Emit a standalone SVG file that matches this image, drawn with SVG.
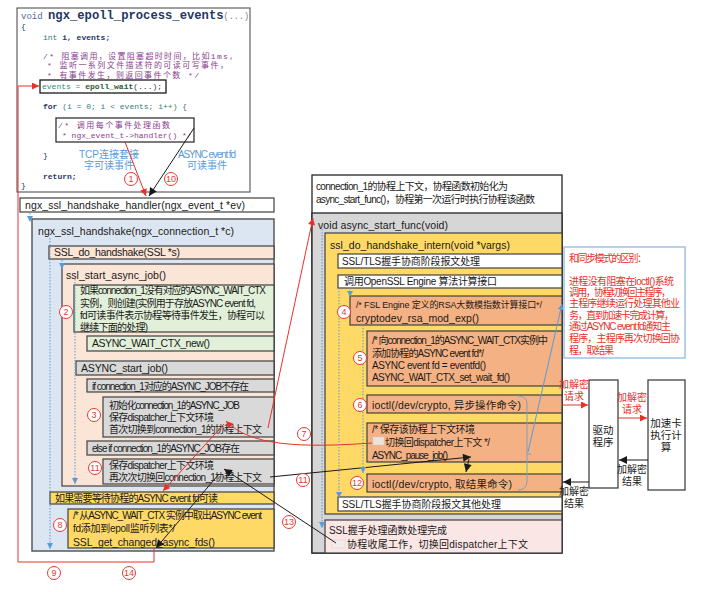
<svg xmlns="http://www.w3.org/2000/svg" width="702" height="592" viewBox="0 0 702 592">
<style>
.t{font-family:"Liberation Sans","Noto Sans CJK SC",sans-serif;font-size:10.5px;fill:#1a1a1a}
.s{font-size:10px}
.xs{font-size:9px}
.m{font-family:"Liberation Mono","DejaVu Sans Mono","Noto Sans CJK SC",monospace;font-size:8px;fill:#1F3864}
.cm{fill:#8A3D8F}
.bx{stroke:#404040;stroke-width:1.2}
.blue{fill:#DCE6F2}.peach{fill:#FBE5D6}.green{fill:#E2F0D9}.gray{fill:#D9D9D9}.gold{fill:#FFD966}.orange{fill:#F4B183}.pink{fill:#FBE6E6}.white{fill:#fff}
.num circle{fill:#fff;stroke:#E53935;stroke-width:1}
.num text{font-family:"Liberation Sans",sans-serif;font-size:9px;fill:#E53935;text-anchor:middle}
.dot{fill:none;stroke:#5B9BD5;stroke-width:1;stroke-dasharray:1.5 1.5}
.red{fill:none;stroke:#E8302A;stroke-width:1}
.blk{fill:none;stroke:#1a1a1a;stroke-width:1}
.rt{fill:#E8302A}
.lb{fill:#5B9BD5}
.c{text-anchor:middle}
</style>
<defs>
<marker id="ar" viewBox="0 0 10 10" refX="10" refY="5" markerWidth="8" markerHeight="7" markerUnits="userSpaceOnUse" orient="auto"><path d="M0,0 L10,5 L0,10 z" fill="#E8302A"/></marker>
<marker id="ak" viewBox="0 0 10 10" refX="10" refY="5" markerWidth="9" markerHeight="8" markerUnits="userSpaceOnUse" orient="auto"><path d="M0,0 L10,5 L0,10 z" fill="#1a1a1a"/></marker>
<marker id="ab" viewBox="0 0 10 10" refX="10" refY="5" markerWidth="6" markerHeight="6" markerUnits="userSpaceOnUse" orient="auto"><path d="M0,0 L10,5 L0,10 z" fill="#5B9BD5"/></marker>
</defs>

<g id="code">
<rect x="17" y="8" width="233" height="184" fill="#fff" stroke="#404040" stroke-width="1"/>
<text x="21" y="19" class="m"><tspan font-size="9" fill="#4A6A9C">void </tspan><tspan font-size="12.2" font-weight="bold">ngx_epoll_process_events</tspan><tspan font-size="8.5" fill="#808080">(...)</tspan></text>
<text x="21" y="29" class="m" fill="#808080">{</text>
<text x="43" y="40" class="m"><tspan fill="#2B7A78">int</tspan><tspan font-weight="bold"> i, events;</tspan></text>
<text x="43" y="59" class="m cm" font-size="9" textLength="191">/* 阻塞调用，设置阻塞超时时间，比如1ms,</text>
<text x="47" y="68" class="m cm" font-size="9" textLength="181">* 监听一系列文件描述符的可读可写事件，</text>
<text x="47" y="78" class="m cm" font-size="9" textLength="152">* 有事件发生，则返回事件个数 */</text>
<rect x="40" y="80" width="126" height="13" fill="none" stroke="#1a1a1a" stroke-width="1.3"/>
<text x="42" y="89" class="m"><tspan fill="#2B8A7A">events = </tspan><tspan font-weight="bold" fill="#1E5E2E">epoll_wait</tspan><tspan fill="#333">(...);</tspan></text>
<text x="43" y="109" class="m"><tspan font-weight="bold">for</tspan><tspan fill="#3A7A7A"> (i = 0; i &lt; events; i++) {</tspan></text>
<rect x="56" y="118" width="138" height="24" fill="none" stroke="#333" stroke-width="1.3"/>
<text x="58" y="128" class="m cm" font-size="9" textLength="112">/* 调用每个事件处理函数</text>
<text x="62" y="138" class="m cm">* ngx_event_t-&gt;handler() */</text>
<text x="43" y="158" class="m" fill="#808080">}</text>
<text x="43" y="179" class="m" font-weight="bold">return;</text>
<text x="21" y="188" class="m" fill="#808080">}</text>
<text x="109" y="158" class="t s lb c">TCP连接套接</text>
<text x="109" y="169" class="t s lb c">字可读事件</text>
<text x="207" y="158" class="t s lb c" textLength="58">ASYNC event fd</text>
<text x="207" y="169" class="t s lb c">可读事件</text>
</g>

<g id="handler">
<rect x="20" y="198" width="254" height="14" class="white bx"/>
<text x="25" y="209" class="t" textLength="220">ngx_ssl_handshake_handler(ngx_event_t *ev)</text>
</g>

<g id="ngx_ssl_handshake">
<rect x="32" y="219" width="242" height="332" class="blue" stroke="#595959" stroke-width="1.5"/>
<text x="38" y="235" class="t" textLength="196">ngx_ssl_handshake(ngx_connection_t *c)</text>
</g>

<g id="ssl_do_handshake">
<rect x="49" y="246" width="225" height="13" class="peach bx"/>
<text x="54" y="256" class="t" textLength="126">SSL_do_handshake(SSL *s)</text>
</g>

<g id="ssl_start_async_job">
<rect x="62" y="264" width="212" height="222" class="peach bx"/>
<text x="66" y="279" class="t" textLength="100">ssl_start_async_job()</text>
</g>

<g id="wait_ctx_check">
<rect x="74" y="285" width="200" height="47" class="green bx"/>
<text x="80" y="294" class="t s" textLength="186">如果connection_1没有对应的ASYNC_WAIT_CTX</text>
<text x="80" y="307" class="t s" textLength="176">实例，则创建(实例用于存放ASYNC event fd,</text>
<text x="80" y="319" class="t s" textLength="185">fd可读事件表示协程等待事件发生，协程可以</text>
<text x="80" y="331" class="t s" textLength="68">继续下面的处理)</text>
</g>

<g id="wait_ctx_new">
<rect x="87" y="336" width="187" height="15" class="green bx"/>
<text x="92" y="347" class="t" textLength="118">ASYNC_WAIT_CTX_new()</text>
</g>

<g id="async_start_job">
<rect x="76" y="361" width="198" height="14" class="gray bx"/>
<text x="81" y="372" class="t" textLength="87">ASYNC_start_job()</text>
</g>

<g id="if_no_job">
<rect x="87" y="379" width="187" height="13" class="gray bx"/>
<text x="92" y="390" class="t s" textLength="157">if connection_1对应的ASYNC_JOB不存在</text>
</g>

<g id="init_job">
<rect x="103" y="397" width="171" height="40" class="gray bx"/>
<text x="109" y="409" class="t s" textLength="131">初始化connection_1的ASYNC_JOB</text>
<text x="109" y="421" class="t s" textLength="105">保存dispatcher上下文环境</text>
<text x="109" y="433" class="t s" textLength="153">首次切换到connection_1的协程上下文</text>
</g>

<g id="else_job">
<rect x="87" y="441" width="187" height="14" class="gray bx"/>
<text x="92" y="452" class="t s" textLength="148">else if connection_1的ASYNC_JOB存在</text>
</g>

<g id="resume_job">
<rect x="103" y="459" width="171" height="25" class="gray bx"/>
<text x="109" y="469" class="t s" textLength="105">保存dispatcher上下文环境</text>
<text x="109" y="481" class="t s" textLength="153">再次次切换回connection_1协程上下文</text>
</g>

<g id="need_wait">
<rect x="50" y="492" width="224" height="12" class="gold bx"/>
<text x="55" y="502" class="t s" textLength="163">如果需要等待协程的ASYNC event fd可读</text>
</g>

<g id="get_fds">
<rect x="68" y="509" width="206" height="39" class="gold bx"/>
<text x="73" y="519" class="t s" textLength="189">/* 从ASYNC_WAIT_CTX 实例中取出ASYNC event</text>
<text x="73" y="532" class="t s" textLength="102">fd添加到epoll监听列表*/</text>
<text x="73" y="546" class="t" textLength="142">SSL_get_changed_async_fds()</text>
</g>

<g id="coroutine">
<rect x="312" y="175" width="250" height="378" fill="#fff" stroke="#262626" stroke-width="1.3"/>
<text x="316" y="190" class="t s" textLength="192">connection_1的协程上下文，协程函数初始化为</text>
<text x="316" y="203" class="t s" textLength="219">async_start_func()，协程第一次运行时执行协程该函数</text>
</g>

<g id="async_start_func">
<rect x="312" y="213" width="250" height="340" fill="#D6D6D6" stroke="#262626" stroke-width="1.3"/>
<text x="318" y="229" class="t" textLength="130">void async_start_func(void)</text>
</g>

<g id="handshake_intern">
<rect x="325" y="233" width="237" height="281" class="gold bx"/>
<text x="330" y="249" class="t" textLength="180">ssl_do_handshake_intern(void *vargs)</text>
</g>

<g id="tls_msg">
<rect x="338" y="254" width="224" height="14" class="white bx"/>
<text x="342" y="265" class="t s" textLength="138">SSL/TLS握手协商阶段报文处理</text>
</g>

<g id="engine_call">
<rect x="338" y="275" width="224" height="13" class="white bx"/>
<text x="344" y="285" class="t s" textLength="153">调用OpenSSL Engine 算法计算接口</text>
</g>

<g id="rsa_mod_exp">
<rect x="350" y="296" width="212" height="29" class="orange bx"/>
<text x="356" y="308" class="t xs" textLength="186">/* FSL Engine 定义的RSA大数模指数计算接口*/</text>
<text x="356" y="322" class="t" textLength="123">cryptodev_rsa_mod_exp()</text>
</g>

<g id="set_wait_fd">
<rect x="367" y="331" width="195" height="55" class="orange bx"/>
<text x="372" y="344" class="t s" textLength="176">/* 向connection_1的ASYNC_WAIT_CTX实例中</text>
<text x="372" y="357" class="t s" textLength="112">添加协程的ASYNC event fd*/</text>
<text x="372" y="369" class="t s" textLength="114">ASYNC event fd = eventfd()</text>
<text x="372" y="381" class="t s" textLength="138">ASYNC_WAIT_CTX_set_wait_fd()</text>
</g>

<g id="ioctl_async">
<rect x="367" y="395" width="195" height="18" class="orange bx"/>
<text x="372" y="409" class="t" textLength="149">ioctl(/dev/crypto, 异步操作命令)</text>
</g>

<g id="pause_job">
<rect x="367" y="423" width="195" height="39" class="orange bx"/>
<rect x="373" y="437" width="11" height="8" fill="#EDE3DC" stroke="#cfc6c0" stroke-width="0.5"/>
<text x="372" y="433" class="t s" textLength="103">/* 保存该协程上下文环境</text>
<text x="385" y="446" class="t s" textLength="105">切换回dispatcher上下文 */</text>
<text x="372" y="459" class="t s" textLength="76">ASYNC_pause_job()</text>
</g>

<g id="ioctl_result">
<rect x="367" y="474" width="195" height="18" class="orange bx"/>
<text x="372" y="488" class="t" textLength="140">ioctl(/dev/crypto, 取结果命令)</text>
</g>

<g id="tls_other">
<rect x="338" y="497" width="224" height="14" class="white bx"/>
<text x="342" y="508" class="t s" textLength="159">SSL/TLS握手协商阶段报文其他处理</text>
</g>

<g id="handshake_done">
<rect x="325" y="520" width="237" height="33" class="pink bx"/>
<rect x="332" y="540" width="13" height="8" fill="#F3ECEC" stroke="#d8cccc" stroke-width="0.5"/>
<text x="329" y="534" class="t s" textLength="118">SSL握手处理函数处理完成</text>
<text x="347" y="548" class="t s" textLength="181">协程收尾工作，切换回dispatcher上下文</text>
</g>

<g id="note">
<rect x="564" y="247" width="121" height="111" fill="#fff" stroke="#9DC3E6" stroke-width="1.5"/>
<text x="569" y="262" class="t s rt" textLength="78">和同步模式的区别：</text>
<text x="569" y="285" class="t s rt" textLength="105">进程没有阻塞在ioctl()系统</text>
<text x="569" y="296" class="t s rt" textLength="102">调用，协程切换回主程序，</text>
<text x="569" y="307" class="t s rt" textLength="111">主程序继续运行处理其他业</text>
<text x="569" y="319" class="t s rt" textLength="105">务，直到加速卡完成计算，</text>
<text x="569" y="330" class="t s rt" textLength="102">通过ASYNC event fd通知主</text>
<text x="569" y="342" class="t s rt" textLength="111">程序，主程序再次切换回协</text>
<text x="569" y="354" class="t s rt" textLength="45">程，取结果</text>
</g>

<g id="driver">
<rect x="589" y="380" width="29" height="108" fill="#fff" stroke="#333" stroke-width="1.2"/>
<text x="603" y="434" class="t c">驱动</text>
<text x="603" y="446" class="t c">程序</text>
</g>

<g id="accelerator">
<rect x="648" y="380" width="37" height="110" fill="#fff" stroke="#333" stroke-width="1.2"/>
<text x="666" y="427" class="t c">加速卡</text>
<text x="666" y="439" class="t c">执行计</text>
<text x="666" y="451" class="t c">算</text>
</g>

<g id="connectors">
<path class="red" d="M125,142 L146,196" marker-end="url(#ar)"/>
<path class="blk" d="M194,128 L149,196" marker-end="url(#ak)"/>
<path class="red" d="M154,548 V562 H18 V86 H39" marker-end="url(#ar)"/>
<path class="red" d="M268,428 L313,218" marker-end="url(#ar)"/>
<path class="red" d="M372,443 C300,448 250,446 226,421" marker-end="url(#ar)"/>
<path class="red" d="M224,424 L163,491" marker-end="url(#ar)"/>
<path class="blk" d="M270,477 L471,457" marker-end="url(#ak)"/>
<path class="blk" d="M469,459 L466,472" marker-end="url(#ak)"/>
<path class="blk" d="M336,543 L224,469" marker-end="url(#ak)"/>
<path class="blk" d="M219,474 L156,548" marker-end="url(#ak)"/>
<path d="M518,396 Q527,396 527,404 V481 Q527,490 518,490" fill="none" stroke="#7F9FBF" stroke-width="1"/>
<path d="M527,454 H531" fill="none" stroke="#7F9FBF" stroke-width="1"/>
<path d="M528,452 L562,304" fill="none" stroke="#5B9BD5" stroke-width="1" marker-end="url(#ab)"/>
<path class="dot" d="M30,213 V222" marker-end="url(#ab)"/>
<path class="dot" d="M50,238 V549" marker-end="url(#ab)"/>
<path class="dot" d="M62,260 V269" marker-end="url(#ab)"/>
<path class="dot" d="M75,279 V484" marker-end="url(#ab)"/>
<path class="dot" d="M322,226 V528" marker-end="url(#ab)"/>
<path class="dot" d="M339,288 V498" marker-end="url(#ab)"/>
<path class="dot" d="M350,288 V297" marker-end="url(#ab)"/>
<path class="dot" d="M363,325 V473" marker-end="url(#ab)"/>
<path class="red" d="M562,405 H588" marker-end="url(#ar)"/>
<path class="red" d="M618,418 H647" marker-end="url(#ar)"/>
<path class="blk" d="M648,460 H619" marker-end="url(#ak)"/>
<path class="blk" d="M589,482 H563" marker-end="url(#ak)"/>
<text x="574" y="388" class="t s rt c">加解密</text>
<text x="574" y="400" class="t s rt c">请求</text>
<text x="632" y="401" class="t s rt c">加解密</text>
<text x="632" y="413" class="t s rt c">请求</text>
<text x="632" y="473" class="t s c">加解密</text>
<text x="632" y="485" class="t s c">结果</text>
<text x="574" y="495" class="t s c">加解密</text>
<text x="574" y="507" class="t s c">结果</text>
<g class="num"><circle cx="131" cy="179" r="6.5"/><text x="131" y="182">1</text></g>
<g class="num"><circle cx="171" cy="179" r="6.5"/><text x="171" y="182">10</text></g>
<g class="num"><circle cx="66" cy="312" r="6.5"/><text x="66" y="315">2</text></g>
<g class="num"><circle cx="94" cy="415" r="6.5"/><text x="94" y="418">3</text></g>
<g class="num"><circle cx="95" cy="468" r="6.5"/><text x="95" y="471">11</text></g>
<g class="num"><circle cx="60" cy="525" r="6.5"/><text x="60" y="528">8</text></g>
<g class="num"><circle cx="54" cy="573" r="6.5"/><text x="54" y="576">9</text></g>
<g class="num"><circle cx="129" cy="573" r="6.5"/><text x="129" y="576">14</text></g>
<g class="num"><circle cx="289" cy="522" r="6.5"/><text x="289" y="525">13</text></g>
<g class="num"><circle cx="304" cy="434" r="6.5"/><text x="304" y="437">7</text></g>
<g class="num"><circle cx="303" cy="480" r="6.5"/><text x="303" y="483">11</text></g>
<g class="num"><circle cx="344" cy="312" r="6.5"/><text x="344" y="315">4</text></g>
<g class="num"><circle cx="360" cy="358" r="6.5"/><text x="360" y="361">5</text></g>
<g class="num"><circle cx="360" cy="405" r="6.5"/><text x="360" y="408">6</text></g>
<g class="num"><circle cx="357" cy="483" r="6.5"/><text x="357" y="486">12</text></g>
</g>
</svg>
